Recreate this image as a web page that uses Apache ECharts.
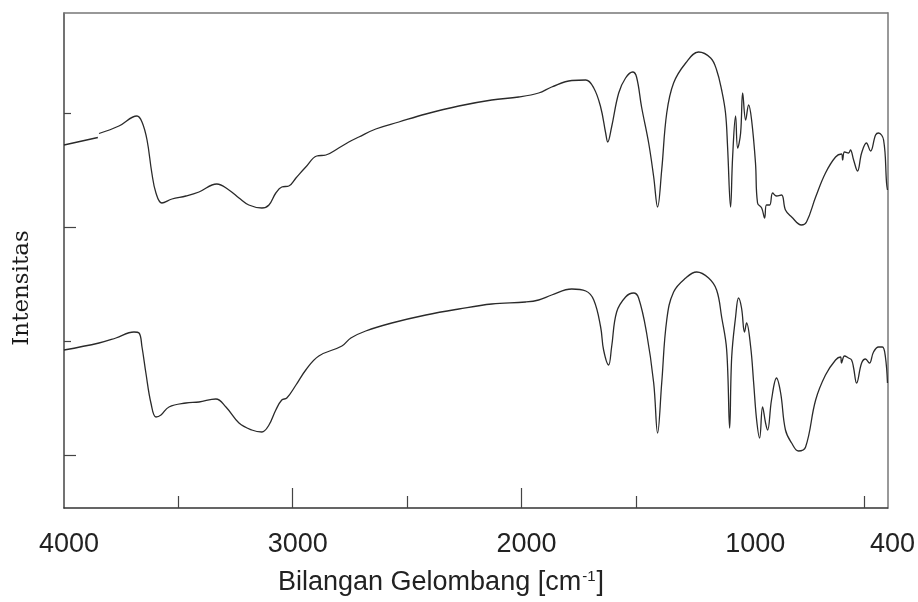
<!DOCTYPE html>
<html>
<head>
<meta charset="utf-8">
<script src="https://cdn.jsdelivr.net/npm/echarts@6/dist/echarts.min.js"></script>
<style>html,body{margin:0;padding:0;background:#fff;}#c{width:918px;height:602px;}</style>
</head>
<body>
<div id="c"></div>
<script>
// Wavenumbers (cm-1) and intensities
const waveA = [4000,3852,3849,3847,3760,3681,3659,3637,3616,3598,3572,3528,3467,3410,3332,3279,3235,3192,3135,3104,3074,3048,3017,2986,2943,2895,2855,2799,2755,2711,2637,2536,2418,2274,2130,2012,1925,1868,1780,1719,1684,1654,1632,1623,1606,1575,1545,1514,1497,1475,1444,1422,1405,1387,1365,1335,1282,1226,1173,1147,1125,1108,1099,1086,1077,1064,1055,1042,1033,1020,1007,994,977,968,950,937,929,915,902,885,863,846,819,776,754,714,671,627,601,596,588,570,562,548,531,513,492,474,452,439,417,404,400];
const intensA = [72.6,74.1,null,74.9,76.4,78.4,77.2,73.6,67,63,61,61.8,62.4,63.2,64.8,63.6,62,60.6,60,60.6,63,64.2,64.4,66,68.2,70.4,70.6,72,73.2,74.2,75.8,77.2,78.8,80.4,81.6,82.2,83,84.2,85.5,85.6,84,80.2,75,73.2,76.2,83,86,87.2,86.2,80.2,73,66.2,60.2,67.6,79,85,89,91.2,90,87.6,83.6,79,72.2,60.2,70.2,78.4,72,75,83,77.6,80.6,77.6,69,61,60,58,60.6,60.6,63,62.4,62.6,59.6,58.2,56.6,57.2,62.2,67,70.2,70.8,69.6,71.2,71,71.6,69.6,67.4,71,73,71.4,74.6,75,73.6,65,63.6];
const waveB = [4000,3847,3773,3694,3672,3659,3642,3620,3598,3576,3541,3467,3410,3336,3292,3235,3179,3135,3104,3074,3048,3026,2986,2943,2886,2785,2746,2681,2567,2418,2274,2130,1982,1925,1868,1780,1719,1684,1654,1641,1619,1606,1584,1545,1510,1488,1453,1422,1405,1387,1365,1335,1282,1234,1182,1147,1125,1103,1090,1081,1064,1051,1038,1025,1016,998,985,972,959,946,933,924,907,885,867,846,819,789,758,714,671,627,605,601,588,570,557,548,535,513,496,479,461,439,422,409,400];
const intensB = [31.6,33,34,35.2,35,32.2,27,21,18.2,18.6,20.2,21,21.2,21.8,20.2,17,15.6,15.2,16.6,19.6,21.6,22,24.6,27.6,30.4,32.4,34,35.4,37,38.6,39.8,40.8,41.2,41.6,42.6,43.8,43.4,41.6,36.2,31.6,28.6,32.2,39.2,42.2,43,42,35,25,15,25,37.6,43.2,46,47.2,46,43.6,38.2,31.6,16,30.2,38.2,42,40,35.2,37,32.2,25,17.6,14,20.2,17,15.6,21.6,26,23,15.6,13,11.4,12.2,21.6,26.6,29.6,30.2,29,30.4,30,29.6,28,25,29,29.8,29,31.2,32.2,32.2,30.2,25];

// Tick labels and tick positions
const xLabels = [4000, 3000, 2000, 1000, 400];
const xTicksLong = [3000, 2000];
const xTicksShort = [3500, 2500, 1500, 500];
const yTicksLong = [10.6, 56.2];
const yTicksShort = [33.4, 79];

const xTitle = 'Bilangan Gelombang [cm{s|-1}]';
const yTitle = 'Intensitas';

function zip(xs, ys) { return xs.map((x, i) => [x, ys[i] === null ? '-' : ys[i]]); }

const chart = echarts.init(document.getElementById('c'), null, {renderer: 'canvas'});
const baseX = {type: 'value', min: 400, max: 4000, inverse: true, splitLine: {show: false}};
const baseY = {type: 'value', min: 0, max: 99, splitLine: {show: false}};
const lineColor = '#2a2a2a';

chart.setOption({
  animation: false,
  backgroundColor: '#fff',
  grid: {left: 64, right: 29, top: 13, bottom: 94, containLabel: false},
  xAxis: [
    Object.assign({}, baseX, {
      position: 'bottom',
      axisLine: {show: true, onZero: false, lineStyle: {color: '#333', width: 1.5}},
      axisTick: {show: true, inside: true, length: 20, customValues: xTicksLong, lineStyle: {color: '#444', width: 1.2}},
      axisLabel: {show: true, customValues: xLabels, margin: 23, padding: [0, 0, 0, 10],
        formatter: function (v) { return String(v); },
        fontFamily: 'Liberation Sans, Arial, sans-serif', fontSize: 27, color: '#222'}
    }),
    Object.assign({}, baseX, {
      position: 'bottom',
      axisLine: {show: false, onZero: false},
      axisTick: {show: true, inside: true, length: 12, customValues: xTicksShort, lineStyle: {color: '#444', width: 1.2}},
      axisLabel: {show: false}
    }),
    Object.assign({}, baseX, {
      position: 'top',
      axisLine: {show: true, onZero: false, lineStyle: {color: '#777', width: 1.5}},
      axisTick: {show: false},
      axisLabel: {show: false}
    })
  ],
  yAxis: [
    Object.assign({}, baseY, {
      position: 'left',
      axisLine: {show: true, onZero: false, lineStyle: {color: '#444', width: 1.5}},
      axisTick: {show: true, inside: true, length: 12, customValues: yTicksLong, lineStyle: {color: '#444', width: 1.2}},
      axisLabel: {show: false}
    }),
    Object.assign({}, baseY, {
      position: 'left',
      axisLine: {show: false, onZero: false},
      axisTick: {show: true, inside: true, length: 7, customValues: yTicksShort, lineStyle: {color: '#444', width: 1.2}},
      axisLabel: {show: false}
    }),
    Object.assign({}, baseY, {
      position: 'right',
      axisLine: {show: true, onZero: false, lineStyle: {color: '#999', width: 2}},
      axisTick: {show: false},
      axisLabel: {show: false}
    })
  ],
  graphic: [
    {
      type: 'text', x: 441, y: 583, silent: true,
      style: {
        text: xTitle, fill: '#222', align: 'center', verticalAlign: 'middle',
        font: '27px "Liberation Sans", Arial, sans-serif',
        rich: {s: {fontSize: 15, fontFamily: 'Liberation Sans', fill: '#222', verticalAlign: 'top', padding: [0, 1, 10, 1]}}
      }
    },
    {
      type: 'text', x: 22, y: 288, rotation: Math.PI / 2, silent: true,
      style: {
        text: yTitle, fill: '#1a1a1a', align: 'center', verticalAlign: 'middle',
        font: '23px "DejaVu Serif", "Liberation Serif", serif'
      }
    }
  ],
  series: [
    {type: 'line', xAxisIndex: 0, yAxisIndex: 0, data: zip(waveA, intensA), showSymbol: false, symbol: 'none',
      smooth: 0.4, connectNulls: false, lineStyle: {color: lineColor, width: 1.3}},
    {type: 'line', xAxisIndex: 0, yAxisIndex: 0, data: zip(waveB, intensB), showSymbol: false, symbol: 'none',
      smooth: 0.4, lineStyle: {color: lineColor, width: 1.3}}
  ]
});
</script>
</body>
</html>
